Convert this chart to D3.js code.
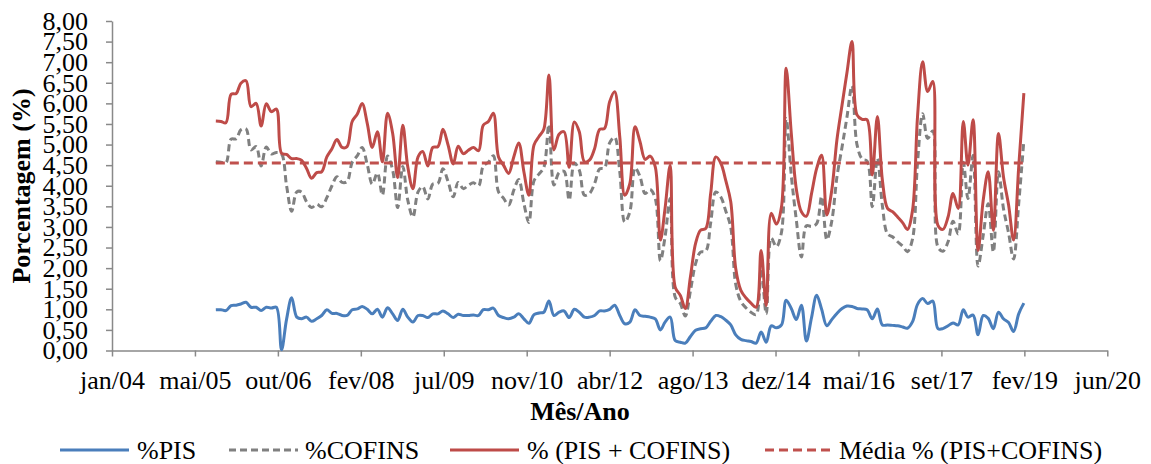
<!DOCTYPE html>
<html lang="pt-BR">
<head>
<meta charset="utf-8">
<title>PIS e COFINS</title>
<script src="https://cdn.jsdelivr.net/npm/d3@7"></script>
<style>
  body { margin: 0; background: #fff; }
  svg text { font-family: "Liberation Serif", "Times New Roman", serif; fill: #000; }
</style>
</head>
<body>
<svg id="grafico"></svg>
<script>
// dados mensais, out/05 a fev/19
const primeiroMes = new Date(Date.UTC(2005, 9, 1));
const ultimoMes = new Date(Date.UTC(2019, 1, 1));

const pis = [
  0.99, 0.99, 0.97, 1.09, 1.10, 1.13, 1.17, 1.05, 1.05, 0.97, 1.05, 1.03, 1.05, 0.02, 0.75, 1.28,
  0.81, 0.77, 0.81, 0.71, 0.77, 0.85, 0.99, 0.90, 0.90, 0.85, 0.85, 0.99, 1.01,
  1.07, 1.00, 0.89, 1.00, 0.81, 1.04, 0.89, 0.73, 1.00, 0.81, 0.69, 0.85, 0.85, 0.80, 0.89, 0.89,
  0.96, 0.89, 0.80, 0.88, 0.85, 0.85, 0.86, 0.85, 0.99, 0.99, 1.03, 0.85, 0.80, 0.77, 0.81, 0.89,
  0.77, 0.66, 0.87, 0.91,
  0.93, 1.20, 0.85, 0.93, 0.96, 0.80, 1.00, 0.93, 0.81, 0.81, 0.85, 0.96, 0.96, 1.00, 1.10, 0.85,
  0.65, 0.69, 0.99, 0.85, 0.83, 0.81, 0.77, 0.50, 0.69, 0.81, 0.24, 0.20, 0.18, 0.34, 0.49, 0.53,
  0.55, 0.71,
  0.85, 0.82, 0.74, 0.62, 0.38, 0.27, 0.24, 0.22, 0.18, 0.45, 0.20, 0.60, 0.55, 0.62, 1.22, 1.02,
  0.75, 1.10, 0.23, 0.80, 1.34, 1.00, 0.60, 0.75, 0.90, 1.02, 1.08, 1.07, 1.02, 1.01, 0.99,
  0.77, 1.01, 0.62, 0.62, 0.61, 0.60, 0.57, 0.54, 0.70, 1.12, 1.26, 1.14, 1.20, 0.53, 0.53, 0.60,
  0.67, 0.62, 0.99, 0.81, 0.86, 0.38, 0.85, 0.78, 0.53, 0.93, 0.77, 0.68, 0.46, 0.89, 1.15
];

const cofins = [
  4.58, 4.57, 4.56, 5.13, 5.14, 5.36, 5.38, 4.87, 4.95, 4.48, 4.94, 4.77, 4.81, 4.77, 4.01, 3.38,
  3.85, 3.85, 3.61, 3.47, 3.55, 3.49, 3.71, 4.00, 4.22, 4.08, 4.10, 4.57, 4.73,
  4.93, 4.51, 4.04, 4.31, 3.77, 4.72, 4.38, 3.47, 4.47, 3.65, 3.24, 3.85, 3.98, 3.68, 4.04, 4.06,
  4.41, 4.10, 3.73, 4.08, 3.93, 4.01, 4.07, 4.00, 4.48, 4.57, 4.73, 3.85, 3.70, 3.53, 3.89, 4.15,
  3.57, 3.11, 4.12, 4.29,
  4.44, 5.49, 4.02, 4.32, 4.35, 3.65, 4.55, 4.38, 3.77, 3.81, 4.05, 4.41, 4.43, 5.04, 5.18, 4.34,
  3.12, 3.37, 4.44, 4.22, 3.81, 3.91, 3.69, 2.18, 2.76, 3.69, 1.30, 1.14, 0.84, 1.45, 2.11, 2.39,
  2.41, 3.10,
  3.85, 3.72, 3.40, 2.99, 1.61, 1.19, 1.04, 0.93, 0.87, 1.98, 0.89, 2.73, 2.52, 2.87, 5.63, 4.25,
  3.18, 2.27, 3.03, 3.01, 3.08, 3.74, 2.69, 3.14, 4.21, 4.94, 5.65, 6.43, 5.00, 4.65, 4.60,
  3.49, 4.67, 3.52, 2.83, 2.76, 2.64, 2.53, 2.40, 2.71, 4.56, 5.75, 5.15, 5.33, 2.51, 2.41, 2.64,
  3.14, 2.83, 4.57, 3.69, 4.74, 2.05, 2.80, 3.56, 2.39, 4.34, 3.45, 2.85, 2.22, 3.57, 5.10
];

const pisCofins = [
  5.57, 5.56, 5.53, 6.22, 6.24, 6.49, 6.55, 5.92, 6.00, 5.45, 5.99, 5.80, 5.86, 4.79, 4.76, 4.66,
  4.66, 4.62, 4.42, 4.18, 4.32, 4.34, 4.70, 4.90, 5.12, 4.93, 4.95, 5.56, 5.74,
  6.00, 5.51, 4.93, 5.31, 4.58, 5.76, 5.27, 4.20, 5.47, 4.46, 3.93, 4.70, 4.83, 4.48, 4.93, 4.95,
  5.37, 4.99, 4.53, 4.96, 4.78, 4.86, 4.93, 4.85, 5.47, 5.56, 5.76, 4.70, 4.50, 4.30, 4.70, 5.04,
  4.34, 3.77, 4.99, 5.20,
  5.37, 6.69, 4.87, 5.25, 5.31, 4.45, 5.55, 5.31, 4.58, 4.62, 4.90, 5.37, 5.39, 6.04, 6.28, 5.19,
  3.77, 4.06, 5.43, 5.07, 4.64, 4.72, 4.46, 2.68, 3.45, 4.50, 1.54, 1.34, 1.02, 1.79, 2.60, 2.92,
  2.96, 3.81,
  4.70, 4.54, 4.14, 3.61, 1.99, 1.46, 1.28, 1.15, 1.05, 2.43, 1.09, 3.33, 3.07, 3.49, 6.85, 5.27,
  3.93, 3.37, 3.26, 3.81, 4.42, 4.74, 3.29, 3.89, 5.11, 5.96, 6.73, 7.50, 5.72, 5.61, 5.60,
  4.26, 5.68, 4.14, 3.45, 3.37, 3.24, 3.10, 2.94, 3.41, 5.68, 7.01, 6.29, 6.53, 3.04, 2.94, 3.24,
  3.81, 3.45, 5.56, 4.50, 5.60, 2.43, 3.65, 4.34, 2.92, 5.27, 4.22, 3.53, 2.68, 4.46, 6.25
];

const mediaPisCofins = 4.55;

const yTicks = [0, 0.5, 1, 1.5, 2, 2.5, 3, 3.5, 4, 4.5, 5, 5.5, 6, 6.5, 7, 7.5, 8];
const xTickLabels = ["jan/04", "mai/05", "out/06", "fev/08", "jul/09", "nov/10", "abr/12",
  "ago/13", "dez/14", "mai/16", "set/17", "fev/19", "jun/20"];
const seriesNames = ["%PIS", "%COFINS", "% (PIS + COFINS)", "Média % (PIS+COFINS)"];

// eixo de datas como no Excel: de 14/01/2004 a 18/06/2020, marca a cada 500 dias
const xInicio = new Date(Date.UTC(2004, 0, 14));
const xFim = new Date(Date.UTC(2020, 5, 18));
const passoDias = 500;

const meses = d3.utcMonth.range(primeiroMes, d3.utcMonth.offset(ultimoMes, 1));

const width = 1151, height = 464;
const svg = d3.select('#grafico')
    .attr('width', width)
    .attr('height', height);

const x = d3.scaleUtc()
    .domain([xInicio, xFim])
    .range([112, 1107.3]);
const y = d3.scaleLinear()
    .domain([0, 8])
    .range([350.5, 21]);

const corEixo = '#898989';
const ptBR = d3.formatLocale({ decimal: ',', thousands: '.', grouping: [3], currency: ['R$', ''] });
const fmt = ptBR.format('.2f');

// eixo Y
const gy = svg.append('g')
    .attr('transform', 'translate(112,0)')
    .call(d3.axisLeft(y).tickValues(yTicks).tickFormat(fmt).tickSize(6).tickSizeOuter(0).tickPadding(18));
gy.select('.domain').attr('stroke', corEixo).attr('stroke-width', 1.5);
gy.selectAll('.tick line').attr('stroke', corEixo).attr('stroke-width', 1.5);
gy.selectAll('text').attr('font-size', 26).attr('font-family', null);

// eixo X
const xTickValues = xTickLabels.map((_, k) => d3.utcDay.offset(xInicio, k * passoDias));
const gx = svg.append('g')
    .attr('transform', 'translate(0,350.5)')
    .call(d3.axisBottom(x).tickValues(xTickValues).tickFormat((d, i) => xTickLabels[i]).tickSize(6).tickSizeOuter(0));
gx.select('.domain').attr('stroke', corEixo).attr('stroke-width', 1.5);
gx.selectAll('.tick line').attr('stroke', corEixo).attr('stroke-width', 1.5);
gx.selectAll('text').attr('font-size', 26).attr('font-family', null).attr('y', 38.5).attr('dy', null);

// títulos
svg.append('text')
    .attr('transform', 'translate(30,186) rotate(-90)')
    .attr('text-anchor', 'middle')
    .attr('font-size', 26)
    .attr('font-weight', 'bold')
    .text('Porcentagem (%)');
svg.append('text')
    .attr('x', 580)
    .attr('y', 420)
    .attr('text-anchor', 'middle')
    .attr('font-size', 26)
    .attr('font-weight', 'bold')
    .text('Mês/Ano');

// linhas (suavizadas como no Excel)
const linha = d3.line()
    .x((d, i) => x(meses[i]))
    .y(d => y(d))
    .curve(d3.curveCatmullRom);

const estilos = [
  { cor: '#4a7ebb', dash: null },
  { cor: '#808080', dash: '7,4' },
  { cor: '#be4b48', dash: null },
  { cor: '#c0504d', dash: '9,5' }
];

const series = [pis, cofins, pisCofins];
series.forEach((valores, k) => {
  svg.append('path')
      .datum(valores)
      .attr('fill', 'none')
      .attr('stroke', estilos[k].cor)
      .attr('stroke-width', 3)
      .attr('stroke-dasharray', estilos[k].dash)
      .attr('stroke-linejoin', 'round')
      .attr('d', linha);
});

// média
svg.append('line')
    .attr('x1', x(meses[0]))
    .attr('x2', x(meses[meses.length - 1]))
    .attr('y1', y(mediaPisCofins))
    .attr('y2', y(mediaPisCofins))
    .attr('stroke', estilos[3].cor)
    .attr('stroke-width', 3)
    .attr('stroke-dasharray', estilos[3].dash);

// legenda
const posLegenda = [60, 229, 450, 765];
seriesNames.forEach((nome, k) => {
  const g = svg.append('g').attr('transform', 'translate(' + posLegenda[k] + ',450)');
  g.append('line')
      .attr('x1', 0).attr('x2', 69)
      .attr('stroke', estilos[k].cor)
      .attr('stroke-width', 3)
      .attr('stroke-dasharray', estilos[k].dash);
  g.append('text')
      .attr('x', k === 1 ? 76 : (k === 3 ? 74 : 77))
      .attr('y', 8.5)
      .attr('font-size', 26)
      .text(nome);
});
</script>
</body>
</html>
